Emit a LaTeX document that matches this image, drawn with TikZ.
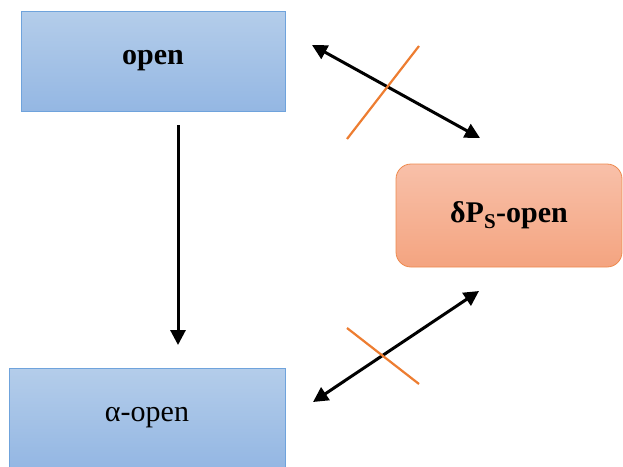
\documentclass[tikz,border=0pt]{standalone}
\usepackage{fontspec}
\setmainfont{Liberation Serif}
\usetikzlibrary{arrows.meta}
\definecolor{bluetop}{HTML}{B4CDEA}
\definecolor{bluebot}{HTML}{94B7E3}
\definecolor{blueedge}{HTML}{6FA3DC}
\definecolor{orangetop}{HTML}{F8C0A9}
\definecolor{orangebot}{HTML}{F4A480}
\definecolor{orangeedge}{HTML}{EE8A4E}
\definecolor{crossline}{HTML}{ED7D31}
\tikzset{
  bluebox/.style={draw=blueedge, line width=0.8pt, top color=bluetop, bottom color=bluebot, inner sep=0pt, font=\fontsize{30}{34}\selectfont},
  orangebox/.style={draw=orangeedge, line width=0.8pt, top color=orangetop, bottom color=orangebot, rounded corners=15pt, inner sep=0pt, font=\fontsize{30}{34}\selectfont\bfseries},
  conn/.style={line width=3pt, -{Triangle[length=15pt,width=15pt]}},
  dconn/.style={line width=3pt, {Triangle[length=15pt,width=15pt]}-{Triangle[length=15pt,width=15pt]}},
  cross/.style={draw=crossline, line width=2.2pt}
}
\begin{document}
\begin{tikzpicture}[x=1pt,y=-1pt]
\useasboundingbox (0,0) rectangle (623,466);
\node[bluebox, minimum width=264pt, minimum height=100pt] (open) at (153,61) {\bfseries open};
\node[bluebox, minimum width=276pt, minimum height=99pt] (alpha) at (147,417.5) {α-open};
\node[orangebox, minimum width=226pt, minimum height=103pt] (dps) at (509,215.5) {δP\textsubscript{S}-open};
\coordinate (v1) at (178,125);
\coordinate (v2) at (178,345);
\coordinate (t1) at (312,45);
\coordinate (t2) at (480,138);
\coordinate (b1) at (313,402);
\coordinate (b2) at (479,291);
\coordinate (c1a) at (347,139);
\coordinate (c1b) at (419,46);
\coordinate (c2a) at (347,328);
\coordinate (c2b) at (419,384);
\draw[conn] (v1) -- (v2);
\draw[dconn] (t1) -- (t2);
\draw[dconn] (b1) -- (b2);
\draw[cross] (c1a) -- (c1b);
\draw[cross] (c2a) -- (c2b);
\end{tikzpicture}
\end{document}
